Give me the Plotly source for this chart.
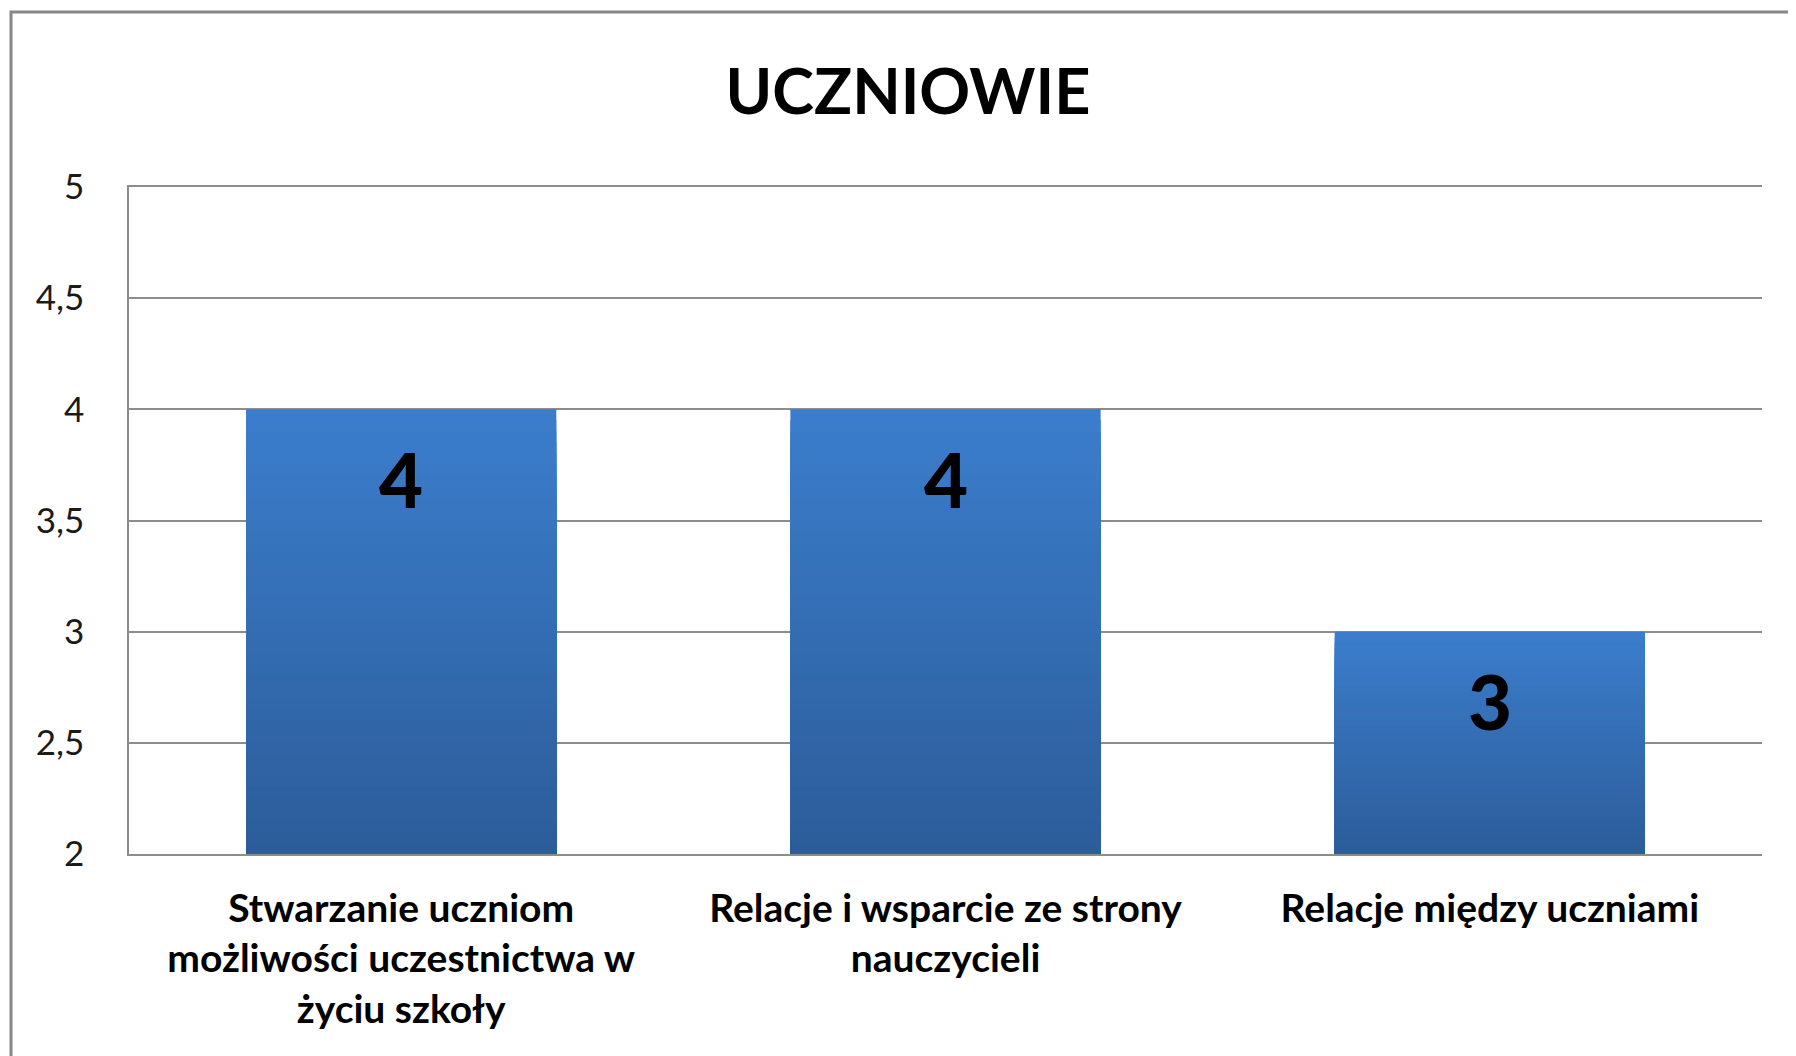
import plotly.graph_objects as go

# ---- data ----
categories = [
    "Stwarzanie uczniom<br>możliwości uczestnictwa w<br>życiu szkoły",
    "Relacje i wsparcie ze strony<br>nauczycieli",
    "Relacje między uczniami",
]
values = [4, 4, 3]
value_labels = ["4", "4", "3"]
y_ticks = [2, 2.5, 3, 3.5, 4, 4.5, 5]
title_text = "UCZNIOWIE"

# ---- styling ----
W, H = 1796, 1056
OFF = 8  # default page body margin
ML, MR, MT, MB = 129 - OFF, 34 + OFF, 187 - OFF, 202 + OFF
TOP_COLOR = (59, 125, 204)
BOT_COLOR = (44, 92, 153)
N_STEPS = 40
BASE = 2
FONT = "Lato"

fig = go.Figure()

# vertical gradient emulated by overlaying progressively shorter, darker bars
for k in range(N_STEPS, 0, -1):
    frac = k / N_STEPS
    t = 1 - frac  # 0 at top, 1 at bottom
    col = tuple(round(TOP_COLOR[i] + (BOT_COLOR[i] - TOP_COLOR[i]) * t) for i in range(3))
    fig.add_trace(go.Bar(
        x=categories,
        y=[(v - BASE) * frac for v in values],
        base=BASE,
        width=0.57,
        marker=dict(color="rgb(%d,%d,%d)" % col, line=dict(width=0)),
        hoverinfo="skip",
        showlegend=False,
    ))

# data labels
for c, v, lab in zip(categories, values, value_labels):
    fig.add_annotation(
        x=c, y=v, xref="x", yref="y", text=lab, showarrow=False,
        yanchor="middle", yshift=-69,
        font=dict(family=FONT, size=76, color="#000000", weight=900),
    )

# outer chart border (extends beyond the visible page at right/bottom)
pw = W - ML - MR
ph = H - MT - MB
fig.add_shape(
    type="rect", xref="paper", yref="paper",
    x0=(11 - OFF - ML) / pw, x1=(W + 20 - ML) / pw,
    y0=(H - MB - (H + 20)) / ph, y1=(H - MB - 12 + OFF) / ph,
    line=dict(color="#878787", width=3), fillcolor="rgba(0,0,0,0)", layer="above",
)

fig.update_layout(
    width=W, height=H,
    margin=dict(l=ML, r=MR, t=MT, b=MB),
    paper_bgcolor="white", plot_bgcolor="white",
    barmode="overlay",
    separators=", ",
    title=dict(
        text=title_text, x=(908 - OFF) / W, xref="container", xanchor="center",
        y=1 - (92 - OFF) / H, yref="container", yanchor="middle",
        font=dict(family=FONT, size=63, color="#000000", weight="bold"),
    ),
    xaxis=dict(
        showgrid=False, showline=True, mirror=True, linecolor="#8C8C8C", linewidth=1.5,
        ticks="", ticklabelstandoff=19,
        tickfont=dict(family=FONT, size=39, color="#000000", weight="bold"),
    ),
    yaxis=dict(
        range=[2, 5], tickvals=y_ticks,
        showgrid=True, gridcolor="#8C8C8C", gridwidth=1.5,
        showline=True, linecolor="#8C8C8C", linewidth=1.5,
        zeroline=False, ticks="", ticklabelstandoff=36,
        tickfont=dict(family=FONT, size=35, color="#1a1a1a"),
    ),
)

fig.write_html("out.html")
